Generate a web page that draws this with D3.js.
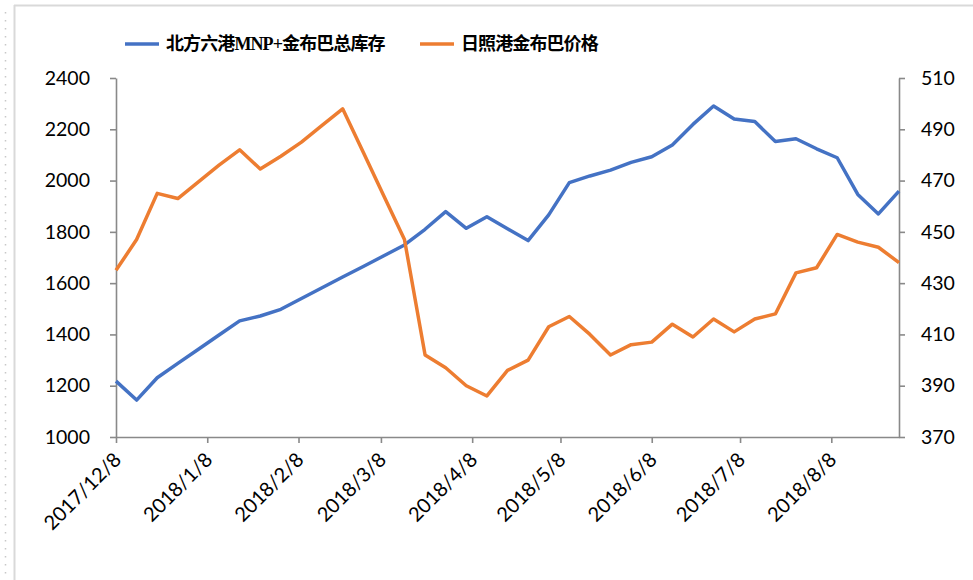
<!DOCTYPE html>
<html>
<head>
<meta charset="utf-8">
<script src="https://cdn.jsdelivr.net/npm/d3@7"></script>
<style>
  body { margin: 0; background: #fff; }
</style>
</head>
<body>
<div id="container"></div>
<script>
/* DATA */
const dates = [
  "2017-12-08","2017-12-15","2017-12-22","2017-12-29",
  "2018-01-05","2018-01-12","2018-01-19","2018-01-26",
  "2018-02-02","2018-02-09","2018-02-16","2018-02-23",
  "2018-03-02","2018-03-09","2018-03-16","2018-03-23","2018-03-30",
  "2018-04-06","2018-04-13","2018-04-20","2018-04-27",
  "2018-05-04","2018-05-11","2018-05-18","2018-05-25",
  "2018-06-01","2018-06-08","2018-06-15","2018-06-22","2018-06-29",
  "2018-07-06","2018-07-13","2018-07-20","2018-07-27",
  "2018-08-03","2018-08-10","2018-08-17","2018-08-24","2018-08-31"
];
// 北方六港MNP+金布巴总库存 (left axis)
const inventory = [
  1218, 1144, 1231, 1287,
  1342, 1398, 1453, 1472,
  1498, 1540, 1582, 1624,
  1665, 1707, 1749, 1810, 1879,
  1814, 1859, 1812, 1766,
  1866, 1992, 2018, 2041,
  2071, 2093, 2139, 2219, 2291,
  2240, 2230, 2152, 2163,
  2124, 2089, 1946, 1870, 1959
];
// 日照港金布巴价格 (right axis)
const price = [
  435, 447, 465, 463,
  469.5, 476, 482, 474.5,
  479.5, 485, 491.5, 498,
  481, 464, 447, 402, 397,
  390, 386, 396, 400,
  413, 417, 410, 402,
  406, 407, 414, 409, 416,
  411, 416, 418, 434,
  436, 449, 446, 444, 438
];
const xTickLabels = ["2017/12/8","2018/1/8","2018/2/8","2018/3/8","2018/4/8","2018/5/8","2018/6/8","2018/7/8","2018/8/8"];
const leftTicks = [1000, 1200, 1400, 1600, 1800, 2000, 2200, 2400];
const rightTicks = [370, 390, 410, 430, 450, 470, 490, 510];
const seriesNames = ["北方六港MNP+金布巴总库存", "日照港金布巴价格"];

/* CONSTANTS */
const width = 973, height = 580,
  margin = { top: 78, bottom: 143, left: 116, right: 74 };
const axisColor = "#898989";
const colors = ["#4472C4", "#ED7D31"];
const tickFont = "Lato, 'Open Sans', sans-serif";

const parse = d3.timeParse("%Y-%m-%d");
const parseTick = d3.timeParse("%Y/%m/%d");

const xScale = d3.scaleTime()
  .domain([parse(dates[0]), parse(dates[dates.length - 1])])
  .range([margin.left, width - margin.right]);

const yLeft = d3.scaleLinear()
  .domain([1000, 2400])
  .range([height - margin.bottom, margin.top]);

const yRight = d3.scaleLinear()
  .domain([370, 510])
  .range([height - margin.bottom, margin.top]);

const svg = d3.select("#container")
  .append("svg")
  .attr("width", width)
  .attr("height", height);

// frame / dotted edge like the source screenshot
svg.append("line")
  .attr("x1", 14.5).attr("x2", 14.5).attr("y1", 5).attr("y2", height)
  .attr("stroke", "#d9d9d9").attr("stroke-width", 2);
svg.append("line")
  .attr("x1", 14).attr("x2", width).attr("y1", 5.5).attr("y2", 5.5)
  .attr("stroke", "#d9d9d9").attr("stroke-width", 2);
svg.append("line")
  .attr("x1", 5.5).attr("x2", 5.5).attr("y1", 12).attr("y2", height)
  .attr("stroke", "#c8c8c8").attr("stroke-width", 1.5)
  .attr("stroke-dasharray", "1.5,6.5");

/* AXES */
const xAxis = d3.axisBottom(xScale)
  .tickValues(xTickLabels.map(parseTick))
  .tickFormat((d, i) => xTickLabels[i])
  .tickSize(6).tickSizeOuter(0);

const gx = svg.append("g")
  .attr("transform", `translate(0,${height - margin.bottom})`)
  .call(xAxis);
gx.selectAll("text")
  .attr("text-anchor", "end")
  .attr("dy", null)
  .attr("y", 0)
  .attr("transform", "translate(6,24) rotate(-45)")
  .style("font-family", tickFont)
  .style("font-size", "20px")
  .style("fill", "#000");

const gl = svg.append("g")
  .attr("transform", `translate(${margin.left},0)`)
  .call(d3.axisLeft(yLeft).tickValues(leftTicks).tickFormat(d3.format("d"))
    .tickSize(6).tickSizeOuter(0).tickPadding(20));
gl.selectAll("text")
  .style("font-family", tickFont)
  .style("font-size", "19.5px")
  .style("fill", "#000");

const gr = svg.append("g")
  .attr("transform", `translate(${width - margin.right},0)`)
  .call(d3.axisRight(yRight).tickValues(rightTicks).tickSize(6).tickSizeOuter(0).tickPadding(16));
gr.selectAll("text")
  .style("font-family", tickFont)
  .style("font-size", "19.5px")
  .style("fill", "#000");

[gx, gl, gr].forEach(g => {
  g.selectAll("path, line").attr("stroke", axisColor).attr("stroke-width", 1.6);
});

/* LINES */
const lineLeft = d3.line()
  .x((d, i) => xScale(parse(dates[i])))
  .y(d => yLeft(d));
const lineRight = d3.line()
  .x((d, i) => xScale(parse(dates[i])))
  .y(d => yRight(d));

svg.append("path")
  .datum(inventory)
  .attr("d", lineLeft)
  .attr("fill", "none")
  .attr("stroke", colors[0])
  .attr("stroke-width", 3.5)
  .attr("stroke-linejoin", "round");

svg.append("path")
  .datum(price)
  .attr("d", lineRight)
  .attr("fill", "none")
  .attr("stroke", colors[1])
  .attr("stroke-width", 3.5)
  .attr("stroke-linejoin", "round");

/* LEGEND */
const legendItems = [
  { x: 125, name: seriesNames[0], color: colors[0] },
  { x: 420, name: seriesNames[1], color: colors[1] }
];
const legend = svg.selectAll("g.legend")
  .data(legendItems)
  .join("g")
  .attr("class", "legend")
  .attr("transform", d => `translate(${d.x},44)`);
legend.append("line")
  .attr("x1", 0).attr("x2", 34)
  .attr("stroke", d => d.color)
  .attr("stroke-width", 3.5);
legend.append("text")
  .attr("x", 41)
  .attr("dy", "0.36em")
  .text(d => d.name)
  .style("font-family", "'Liberation Serif', 'Noto Sans CJK SC', serif")
  .style("font-weight", "bold")
  .style("font-size", "18px")
  .style("letter-spacing", "-0.9px")
  .style("fill", "#000");
</script>
</body>
</html>
